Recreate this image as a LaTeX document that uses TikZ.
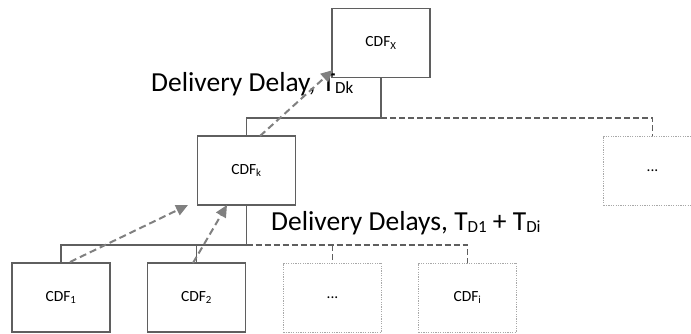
\documentclass[tikz,border=0pt]{standalone}
\usepackage{fontspec}
\setmainfont{Carlito}
\usetikzlibrary{arrows.meta}
\definecolor{linegray}{HTML}{5F5F5F}
\definecolor{arrowgray}{HTML}{808080}
\definecolor{ghostgray}{HTML}{A8A8A8}
% subscript set just below the baseline, as in the delay labels
\newcommand{\delaysub}[1]{\raisebox{-2pt}{\fontsize{17}{20}\selectfont #1}}
\begin{document}
\begin{tikzpicture}[x=1pt,y=-1pt,
  cdfbox/.style={draw=linegray,line width=1.1pt,minimum width=98pt,minimum height=69pt,
    inner sep=0pt,font=\fontsize{15.5}{18}\selectfont},
  ghostbox/.style={draw=ghostgray,line width=0.8pt,dash pattern=on 1.2pt off 1.2pt,
    minimum width=98pt,minimum height=69pt,inner sep=0pt,font=\fontsize{15.5}{18}\selectfont},
  treeline/.style={draw=linegray,line width=1.1pt},
  treedash/.style={draw=linegray,line width=1.3pt,dash pattern=on 6pt off 3pt},
  delayarrow/.style={draw=arrowgray,line width=2pt,dash pattern=on 7pt off 4pt,
    -{Triangle[length=12pt,width=11pt]}},
  delaylabel/.style={anchor=base west,inner sep=0pt,font=\fontsize{27.5}{32}\selectfont}]
\clip (0,0) rectangle (691,334);

% tree of CDF nodes
\node[cdfbox] (x) at (381,43) {CDF\textsubscript{X}};
\node[cdfbox] (k) at (246.5,170.5) {CDF\textsubscript{k}};
\node[ghostbox] (r) at (652.5,170.5) {...};
\node[cdfbox] (c1) at (61,297.5) {CDF\textsubscript{1}};
\node[cdfbox] (c2) at (196.5,297.5) {CDF\textsubscript{2}};
\node[ghostbox] (cd) at (332.5,297.5) {...};
\node[ghostbox] (ci) at (467.5,297.5) {CDF\textsubscript{i}};

% upper level connectors
\coordinate (up) at (381,118);
\coordinate (upk) at (246.5,118);
\coordinate (upr) at (652.5,118);
\draw[treeline] (x.south) -- (up) -- (upk) -- (k.north);
\draw[treedash] (up) -- (upr) -- (r.north);

% lower level connectors
\coordinate (lo) at (246.5,245);
\coordinate (lo1) at (61,245);
\coordinate (lo2) at (196.5,245);
\coordinate (lod) at (332.5,245);
\coordinate (loi) at (467.5,245);
\draw[treeline] (k.south) -- (lo) -- (lo1) -- (c1.north);
\draw[treeline] (lo2) -- (c2.north);
\draw[treedash] (lo) -- (loi) -- (ci.north);
\draw[treedash] (lod) -- (cd.north);

% delay labels
\node[delaylabel] (tdk) at (151,92) {Delivery Delay, T\delaysub{Dk}};
\node[delaylabel] (tdi) at (271,230) {Delivery Delays, T\delaysub{D1} + T\delaysub{Di}};

% delivery delay arrows
\coordinate (a1s) at (70,262);
\coordinate (a1e) at (188,205);
\coordinate (a2s) at (193,263);
\coordinate (a2e) at (227,205);
\coordinate (a3s) at (260,136);
\coordinate (a3e) at (333,70);
\draw[delayarrow] (a1s) -- (a1e);
\draw[delayarrow] (a2s) -- (a2e);
\draw[delayarrow] (a3s) -- (a3e);
\end{tikzpicture}
\end{document}
